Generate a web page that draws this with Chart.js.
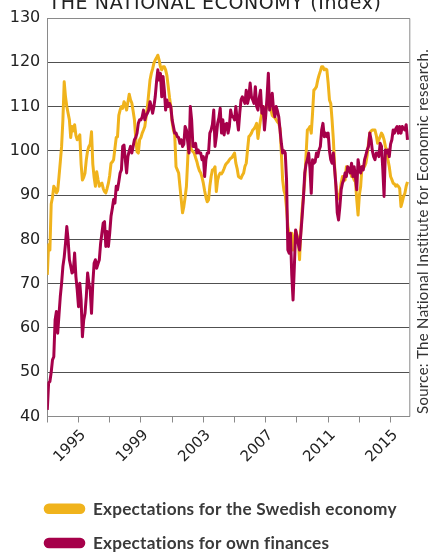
<!DOCTYPE html>
<html>
<head>
<meta charset="utf-8">
<script src="https://cdn.jsdelivr.net/npm/chart.js@4.4.1/dist/chart.umd.min.js"></script>
<style>
  html, body { margin: 0; padding: 0; background: #fff; }
  #wrap { position: relative; width: 430px; height: 552px; }
</style>
</head>
<body>
<div id="wrap"><canvas id="c" width="430" height="552"></canvas></div>
<script>
// Monthly index values, January 1993 onwards
const START_YEAR = 1993;

const swedishEconomy = [
  72, 78.8, 77.6, 88, 89.5, 92, 91.5, 90.5, 91, 94.2, 97.5, 101,
  107, 115.6, 112.2, 110, 108.5, 107, 103, 105.5, 104.5, 105.9, 103.5, 102.5,
  103, 103.6, 97, 93.4, 94, 95, 98, 100, 101, 101.5, 104.3, 97,
  94, 92, 95.3, 93.5, 92, 92.5, 92.7, 91.5, 90.8, 90.5, 91.5, 92.7,
  94.5, 97.2, 97.5, 98, 100.5, 103, 103.2, 108, 109.2, 110, 109.6, 111.1,
  110.5, 109.2, 111, 112.8, 111.5, 110.8, 109, 107, 103, 99.8, 99.5, 102.5,
  103, 104, 104.7, 105.5, 107.7, 110, 113, 116, 117.5, 118.5, 119.8, 120.5,
  121, 121.6, 120.5, 119, 118.3, 119, 119, 118.3, 117, 114.5, 112, 110,
  106.5, 104.7, 103.6, 96.4, 95.7, 95, 92, 89, 86, 87.4, 89.5, 92,
  98, 104, 101, 100.2, 99.8, 99.5, 98.5, 97.6, 96.4, 95.5, 95, 94,
  92.7, 91, 89.5, 88.5, 88.9, 92, 94.2, 95.7, 95.8, 96.4, 90.8, 93.4,
  94.5, 95, 94.8, 95.3, 96, 96.8, 97.2, 97.5, 98, 98.3, 98.5, 99,
  99.5, 97.2, 96, 94.2, 94, 93.8, 94.5, 95, 96.5, 97.2, 100.2, 103.2,
  103.5, 104, 104.7, 105, 105.5, 106.2, 102.8, 105, 107, 108.5, 110, 109.5,
  109.2, 110, 110.7, 110, 109.2, 108, 107.7, 107.5, 107, 106.5, 106.2, 105,
  99.5, 93.4, 91, 90, 87, 83, 81, 80.5, 81.4, 77.6, 80, 82,
  81, 80, 75.4, 82, 86.7, 90, 93.4, 99, 104.7, 105, 105.5, 104,
  108.5, 113.7, 114, 114.5, 116, 117.1, 118, 119, 119, 118.3, 118.5, 118.3,
  115.3, 111.5, 110.7, 107, 102.5, 96.4, 92, 89, 90, 90.4, 92.7, 94.2,
  93.8, 93.4, 96.4, 96.4, 96, 95.7, 94.2, 94.2, 93.4, 93, 89, 85.5,
  90, 92, 96.4, 96, 96.5, 97.2, 99, 101.7, 104, 104.5, 104.7, 104.7,
  104.7, 103.5, 101.7, 102.5, 103.2, 104, 103.5, 102.5, 101, 100.2, 98, 96.4,
  94.2, 93.5, 92.7, 92.5, 92, 92.3, 92, 91.5, 87.4, 88.5, 89.7, 90.4,
  92, 93
];

const ownFinances = [
  41.5, 47.6, 47.9, 50, 52.8, 53.5, 61.8, 63.7, 58.8, 63, 67.1, 70.1,
  73.9, 76, 79.1, 82.9, 79.9, 75.4, 74, 72.4, 72.7, 76.9, 71.6, 68.6,
  64.8, 70.1, 66.3, 58, 61.8, 63.3, 67.1, 72.4, 70, 68.6, 63.3, 70.1,
  74.6, 75.4, 73.5, 74.5, 75.4, 79.1, 81.4, 83.7, 84, 78.4, 81.8, 78.4,
  81.4, 85.2, 87, 89, 88.2, 92, 91.2, 93, 95, 95.7, 101, 101.3,
  98, 95, 98.7, 100, 101, 99.5, 101, 102.5, 103, 104, 106.2, 107,
  107, 107.7, 109.2, 107, 108, 108.5, 109.2, 111.1, 110, 108.5, 110, 112.2,
  115.6, 118.3, 116, 117.5, 112.2, 116.8, 113.7, 109.2, 111.5, 110, 110.7, 110,
  107, 105.5, 104, 104, 103.2, 103, 101.7, 102.5, 101, 101.5, 105.5, 104.7,
  102, 99.5, 110, 107, 101, 101, 101.7, 99.5, 100.2, 99.5, 99.5, 98,
  98.7, 94.2, 98, 99.5, 99.5, 104, 104.7, 106, 109.2, 101, 103.2, 106.2,
  107.5, 109.6, 104, 107, 103.6, 106, 106.2, 104, 105.5, 109.2, 107.7, 107.7,
  107, 110, 107, 104.7, 108.5, 111.5, 112.2, 111.5, 110.7, 113.7, 110.7, 112,
  115.3, 112.2, 111.5, 110.7, 114.5, 110, 109.2, 112, 113.7, 108.5, 110, 104.7,
  108, 112.2, 117.5, 109.2, 111, 113, 109.2, 107.7, 110, 109, 107.7, 104.7,
  101.7, 99.5, 100, 99.5, 93.4, 77.6, 76.9, 81.4, 72, 66.3, 73.9, 82.1,
  80.6, 79, 77.6, 81.4, 85.2, 89.5, 95, 97, 98, 99.5, 96, 90.4,
  98, 97.2, 97.5, 99.5, 98.7, 100.2, 101, 104.7, 106.2, 103.2, 104, 103.2,
  104, 100, 98, 97.2, 99.5, 95.7, 92, 86, 84.4, 87.4, 91.2, 92.7,
  93.5, 95, 94.2, 96.4, 96, 95, 97.2, 94.2, 96.4, 94, 91.2, 98,
  96, 95, 96.4, 95.7, 98, 99, 100.2, 101, 104, 102.5, 100, 98.7,
  98, 99.5, 99.5, 98.7, 101.7, 101, 96, 89.7, 100.2, 99.5, 100.2, 98.7,
  101.5, 102.5, 104.7, 104, 105, 105.5, 104, 105.5, 104, 105.5, 105, 104.7,
  105.9, 102.5
];

const yearTicks = [1993, 1995, 1997, 1999, 2001, 2003, 2005, 2007, 2009, 2011, 2013, 2015];
const labelledYears = [1995, 1999, 2003, 2007, 2011, 2015];
const seriesNames = ['Expectations for the Swedish economy', 'Expectations for own finances'];
const titleText = 'THE NATIONAL ECONOMY (Index)';
const sourceText = 'Source: The National Institute for Economic research.';

const YELLOW = '#f0b31c';
const CRIMSON = '#a6004a';

const toPoints = arr => arr.map((v, i) => ({ x: START_YEAR + i / 12, y: v }));

// Title, rotated source note, plot frame and legend
const decorations = {
  id: 'decorations',
  afterDatasetsDraw(chart) {
    const { ctx, chartArea: a } = chart;
    ctx.save();
    ctx.strokeStyle = '#8a8a8a';
    ctx.lineWidth = 1;
    ctx.beginPath();
    ctx.moveTo(a.left, a.top + 0.5);
    ctx.lineTo(a.right + 0.5, a.top + 0.5);
    ctx.lineTo(a.right + 0.5, a.bottom);
    ctx.stroke();
    ctx.restore();
  },
  afterDraw(chart) {
    const { ctx } = chart;
    ctx.save();
    // title
    ctx.fillStyle = '#222';
    ctx.font = '19px "DejaVu Sans"';
    ctx.letterSpacing = '0.6px';
    ctx.textAlign = 'center';
    ctx.textBaseline = 'alphabetic';
    ctx.fillText(titleText, 215, 8.5);

    // source note, reading upward along the right edge
    ctx.save();
    ctx.translate(428, 414);
    ctx.rotate(-Math.PI / 2);
    ctx.font = '15px Lato';
    ctx.letterSpacing = '0.3px';
    ctx.fillStyle = '#333';
    ctx.textAlign = 'left';
    ctx.textBaseline = 'alphabetic';
    ctx.fillText(sourceText, 0, 0);
    ctx.restore();

    // legend
    ctx.letterSpacing = '0.2px';
    const order = [1, 0];
    order.forEach((dsIndex, row) => {
      const ds = chart.data.datasets[dsIndex];
      const cy = 508.7 + row * 34.3;
      const x0 = 43.7, x1 = 85.3, h = 10.5;
      ctx.fillStyle = ds.borderColor;
      ctx.beginPath();
      ctx.roundRect(x0, cy - h / 2, x1 - x0, h, h / 2);
      ctx.fill();
      ctx.fillStyle = '#3a3a3a';
      ctx.font = 'bold 17.2px Lato';
      ctx.textAlign = 'left';
      ctx.textBaseline = 'middle';
      ctx.fillText(ds.label, 93, cy + 0.5);
    });
    ctx.restore();
  }
};

new Chart(document.getElementById('c'), {
  type: 'line',
  data: {
    datasets: [
      {
        label: seriesNames[1],
        data: toPoints(ownFinances),
        borderColor: CRIMSON,
        borderWidth: 3,
        pointRadius: 0,
        tension: 0,
        borderJoinStyle: 'round',
        order: 0
      },
      {
        label: seriesNames[0],
        data: toPoints(swedishEconomy),
        borderColor: YELLOW,
        borderWidth: 3,
        pointRadius: 0,
        tension: 0,
        borderJoinStyle: 'round',
        order: 1
      }
    ]
  },
  options: {
    responsive: false,
    animation: false,
    devicePixelRatio: 1,
    layout: { padding: { top: 18, right: 20.7, left: 0, bottom: 0 } },
    plugins: {
      legend: { display: false },
      title: { display: false },
      tooltip: { enabled: false }
    },
    scales: {
      x: {
        type: 'linear',
        min: START_YEAR,
        max: 2016.2,
        afterBuildTicks: s => { s.ticks = yearTicks.map(v => ({ value: v })); },
        afterFit: s => { s.height = 552 - 416.5; },
        ticks: {
          autoSkip: false,
          minRotation: 45,
          maxRotation: 45,
          color: '#222',
          font: { family: 'DejaVu Sans', size: 15 },
          padding: 4,
          labelOffset: 5,
          callback: v => labelledYears.includes(v) ? String(v) : ''
        },
        grid: { drawOnChartArea: false, color: '#8a8a8a', tickLength: 6 },
        border: { color: '#8a8a8a', width: 1 }
      },
      y: {
        min: 40,
        max: 130,
        afterFit: s => { s.width = 47.3; },
        ticks: {
          stepSize: 10,
          color: '#222',
          font: { family: 'DejaVu Sans', size: 16 },
          padding: 7
        },
        grid: { color: '#505050', lineWidth: 1, drawTicks: false },
        border: { color: '#8a8a8a', width: 1 }
      }
    }
  },
  plugins: [decorations]
});
</script>
</body>
</html>
